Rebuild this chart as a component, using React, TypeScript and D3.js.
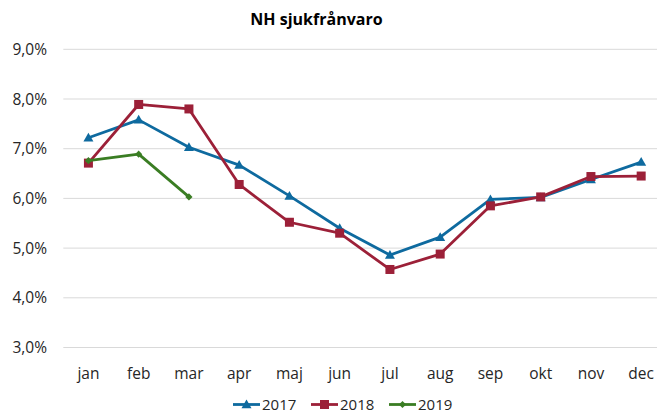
import React from "react";
import * as d3 from "d3";

const months = ["jan", "feb", "mar", "apr", "maj", "jun", "jul", "aug", "sep", "okt", "nov", "dec"];
const yTicks = [3, 4, 5, 6, 7, 8, 9];
const s2017 = [7.22, 7.58, 7.03, 6.67, 6.05, 5.4, 4.86, 5.22, 5.98, 6.02, 6.38, 6.73];
const s2018 = [6.71, 7.89, 7.8, 6.28, 5.52, 5.3, 4.57, 4.88, 5.85, 6.03, 6.44, 6.45];
const s2019 = [6.76, 6.89, 6.03];

const series = [
  { name: "2017", values: s2017, color: "#0E6A9F", marker: "triangle" },
  { name: "2018", values: s2018, color: "#9C2038", marker: "square" },
  { name: "2019", values: s2019, color: "#3A7D23", marker: "diamond" },
];

const W = 657;
const H = 412;
const FONT = "'Open Sans', sans-serif";

function Marker({ type, x, y, color }: { type: string; x: number; y: number; color: string }) {
  if (type === "square") {
    return <rect x={x - 4.5} y={y - 4.5} width={9} height={9} fill={color} />;
  }
  if (type === "triangle") {
    const s = 5;
    return <path d={`M${x},${y - s} L${x + s},${y + s * 0.75} L${x - s},${y + s * 0.75} Z`} fill={color} />;
  }
  const s = 3.6;
  return <path d={`M${x},${y - s} L${x + s},${y} L${x},${y + s} L${x - s},${y} Z`} fill={color} />;
}

export default function App() {
  const x = d3.scaleBand<string>().domain(months).range([63.3, 666.3]);
  const y = d3.scaleLinear().domain([3, 9]).range([347.5, 49.3]);
  const cx = (m: string) => (x(m) as number) + x.bandwidth() / 2;
  const line = d3
    .line<number>()
    .x((_, i) => cx(months[i]))
    .y((d) => y(d));

  const legendItems = [
    { lx: 233, tx: 262 },
    { lx: 311, tx: 340 },
    { lx: 389, tx: 418 },
  ];

  return (
    <svg width={W} height={H} style={{ position: "absolute", left: 0, top: 0, background: "#fff" }}>
      <rect width={W} height={H} fill="#fff" />
      <text x={316.5} y={25} textAnchor="middle" fontFamily={FONT} fontWeight="bold" fontSize={16} fill="#000">
        NH sjukfrånvaro
      </text>
      {yTicks.map((t) => (
        <g key={t}>
          <line x1={63.3} x2={W} y1={y(t)} y2={y(t)} stroke="#D9D9D9" strokeWidth={1} />
          <text x={47} y={y(t) + 5.5} textAnchor="end" fontFamily={FONT} fontSize={15.5} fill="#262626">
            {t.toFixed(1).replace(".", ",")}%
          </text>
        </g>
      ))}
      {months.map((m) => (
        <text key={m} x={cx(m)} y={379} textAnchor="middle" fontFamily={FONT} fontSize={15.5} fill="#262626">
          {m}
        </text>
      ))}
      {series.map((s) => (
        <g key={s.name}>
          <path d={line(s.values) || ""} fill="none" stroke={s.color} strokeWidth={2.8} strokeLinejoin="round" />
          {s.values.map((v, i) => (
            <Marker key={i} type={s.marker} x={cx(months[i])} y={y(v)} color={s.color} />
          ))}
        </g>
      ))}
      {series.map((s, i) => {
        const { lx, tx } = legendItems[i];
        const ly = 404.5;
        return (
          <g key={s.name}>
            <line x1={lx} x2={lx + 27} y1={ly} y2={ly} stroke={s.color} strokeWidth={2.8} />
            <Marker type={s.marker} x={lx + 13.5} y={ly} color={s.color} />
            <text x={tx} y={ly + 5} fontFamily={FONT} fontSize={15} fill="#262626">
              {s.name}
            </text>
          </g>
        );
      })}
    </svg>
  );
}
